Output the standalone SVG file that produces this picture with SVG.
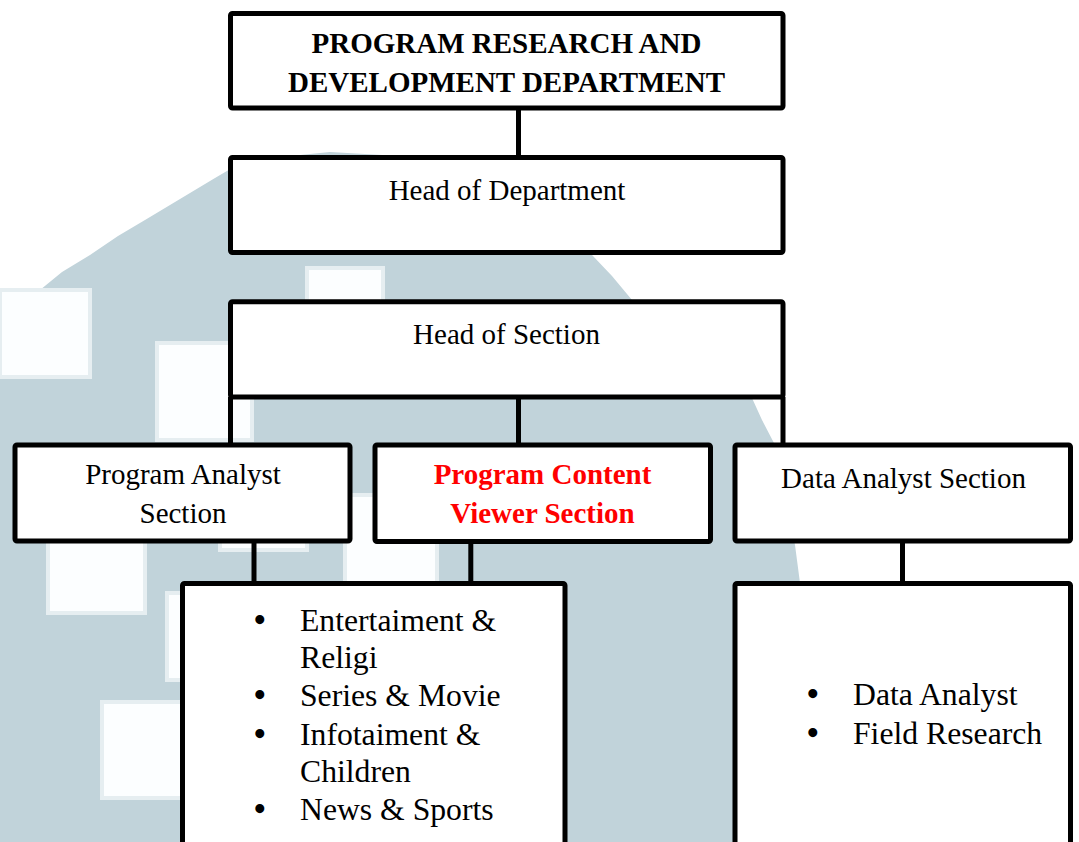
<svg xmlns="http://www.w3.org/2000/svg" width="1079" height="842" viewBox="0 0 1079 842">
<style>
.box{fill:#ffffff;stroke:#000000;stroke-width:5;}
.con{stroke:#000000;stroke-width:5;fill:none;}
.t{font-family:"Liberation Serif","Times New Roman",serif;font-size:29px;fill:#000000;text-anchor:middle;}
.b{font-weight:bold;}
.red{fill:#ff0000;}
.li{font-family:"Liberation Serif","Times New Roman",serif;font-size:31.7px;fill:#000000;}
.bul{font-size:33px;font-weight:bold;}
.ws{fill:#fcfeff;stroke:#e6eef1;stroke-width:4;}
</style>
<rect x="0" y="0" width="1079" height="842" fill="#ffffff"/>
<g id="watermark">
<path d="M0,842 L0,300 L40,290 L62,272 L90,255 L118,236 L145,220 L170,205 L195,190 L215,178 L232,168 L270,158 L330,152 L400,156 L460,168 L520,190 L560,220 L593,256 L612,276 L632,300 L700,330 L752,398 L762,420 L775,445 L795,545 L800,583 L795,700 L770,790 L740,842 Z" fill="#c1d3da"/>
<rect class="ws" x="0" y="290" width="90" height="87"/>
<rect class="ws" x="157" y="343" width="95" height="97"/>
<rect class="ws" x="307" y="268" width="76" height="60"/>
<rect class="ws" x="48" y="520" width="97" height="93"/>
<rect class="ws" x="220" y="490" width="87" height="60"/>
<rect class="ws" x="167" y="593" width="60" height="87"/>
<rect class="ws" x="102" y="702" width="90" height="96"/>
<rect class="ws" x="345" y="495" width="92" height="88"/>
</g>
<g id="connectors">
<line class="con" x1="518.5" y1="108" x2="518.5" y2="157.5"/>
<line class="con" x1="230.5" y1="397" x2="230.5" y2="445"/>
<line class="con" x1="518.5" y1="397" x2="518.5" y2="445"/>
<line class="con" x1="783" y1="397" x2="783" y2="445"/>
<line class="con" x1="254" y1="541" x2="254" y2="586"/>
<line class="con" x1="470.8" y1="541" x2="470.8" y2="586"/>
<line class="con" x1="902.5" y1="541" x2="902.5" y2="586"/>
</g>
<g id="node-department">
<rect class="box" x="230.5" y="13.5" width="552.5" height="94.5" rx="2"/>
<text class="t b" x="506.5" y="53">PROGRAM RESEARCH AND</text>
<text class="t b" x="506.5" y="92">DEVELOPMENT DEPARTMENT</text>
</g>
<g id="node-head-department">
<rect class="box" x="230.5" y="157.5" width="552.5" height="95" rx="2"/>
<text class="t" x="507" y="200">Head of Department</text>
</g>
<g id="node-head-section">
<rect class="box" x="230.5" y="301.8" width="552.5" height="95.2" rx="2"/>
<text class="t" x="506.5" y="344">Head of Section</text>
</g>
<g id="node-program-analyst">
<rect class="box" x="15" y="445" width="335" height="96" rx="2"/>
<text class="t" x="183" y="484">Program Analyst</text>
<text class="t" x="183" y="523">Section</text>
</g>
<g id="node-program-content-viewer">
<rect class="box" x="375" y="445" width="335.5" height="96.5" rx="2"/>
<text class="t b red" x="542.5" y="484">Program Content</text>
<text class="t b red" x="542.5" y="523">Viewer Section</text>
</g>
<g id="node-data-analyst">
<rect class="box" x="735" y="445" width="335.5" height="96" rx="2"/>
<text class="t" x="903.5" y="488">Data Analyst Section</text>
</g>
<g id="node-content-list">
<rect class="box" x="182.5" y="583.5" width="382.5" height="270" rx="2"/>
<text class="li"><tspan class="bul" x="254" y="631">•</tspan><tspan x="300" y="631">Entertaiment &amp;</tspan><tspan x="300" y="667.5">Religi</tspan><tspan class="bul" x="254" y="706">•</tspan><tspan x="300" y="706">Series &amp; Movie</tspan><tspan class="bul" x="254" y="745">•</tspan><tspan x="300" y="745">Infotaiment &amp;</tspan><tspan x="300" y="782">Children</tspan><tspan class="bul" x="254" y="820">•</tspan><tspan x="300" y="820">News &amp; Sports</tspan></text>
</g>
<g id="node-data-list">
<rect class="box" x="735" y="583.5" width="335.5" height="270" rx="2"/>
<text class="li"><tspan class="bul" x="807" y="705">•</tspan><tspan x="853" y="705">Data Analyst</tspan><tspan class="bul" x="807" y="744">•</tspan><tspan x="853" y="744">Field Research</tspan></text>
</g>
</svg>
